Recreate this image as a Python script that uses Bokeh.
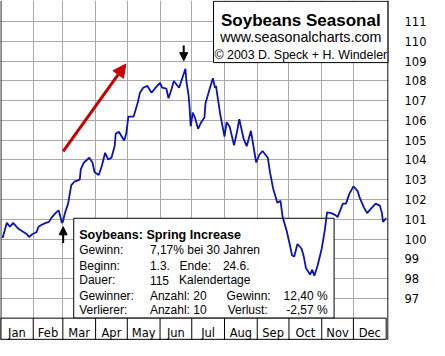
from itertools import accumulate
from bokeh.plotting import figure
from bokeh.models import Range1d, FixedTicker, Arrow, NormalHead, Span
from bokeh.core.properties import value
from bokeh.embed import file_html
from bokeh.resources import INLINE

# ---------------- data ----------------
months = ["Jan", "Feb", "Mar", "Apr", "May", "Jun", "Jul", "Aug", "Sep", "Oct", "Nov", "Dec"]
month_days = [31, 28, 31, 30, 31, 30, 31, 31, 30, 31, 30, 31]
y_ticks = list(range(97, 112))

day_of_year = [2, 6, 9, 12, 16, 18, 21, 25, 27, 30, 34, 36, 39, 43, 46, 48, 52, 55, 57, 58,
               59, 61, 64, 66, 67, 70, 75, 76, 79, 84, 87, 89, 93, 96, 99, 102, 105, 108, 109, 112,
               117, 119, 121, 126, 130, 132, 135, 139, 143, 146, 151, 153, 157, 159, 162, 164, 169, 175, 176, 178,
               179, 180, 182, 184, 187, 190, 193, 194, 198, 201, 203, 204, 205, 208, 212, 214, 217, 221, 224, 226,
               230, 233, 237, 240, 242, 245, 248, 253, 255, 258, 262, 265, 267, 271, 274, 276, 278, 281, 285, 287,
               289, 293, 295, 297, 300, 304, 307, 309, 313, 317, 319, 324, 327, 330, 334, 338, 340, 344, 347, 350,
               355, 359, 361, 362, 365]
seasonal = [100.05, 100.82, 100.62, 100.82, 100.57, 100.48, 100.38, 100.24, 100.10, 100.24,
            100.34, 100.62, 100.72, 100.82, 100.87, 101.06, 101.31, 101.45, 101.06, 100.82,
            100.87, 101.31, 101.79, 102.42, 102.73, 102.90, 103.00, 103.53, 103.87, 104.11,
            103.87, 103.38, 103.24, 103.72, 104.36, 104.02, 104.11, 104.69, 105.32, 105.42,
            104.98, 105.32, 106.19, 106.19, 106.92, 107.40, 107.65, 107.74, 107.40, 107.60,
            107.89, 107.65, 107.60, 107.12, 107.60, 107.99, 107.65, 108.61, 107.94, 107.26,
            106.63, 105.70, 106.39, 106.14, 105.57, 105.91, 106.14, 106.87, 107.60, 108.13,
            107.65, 107.74, 107.35, 106.29, 105.18, 105.91, 105.66, 104.74, 105.47, 106.06,
            105.08, 104.69, 105.47, 104.49, 103.87, 104.26, 104.45, 104.11, 103.38, 102.56,
            101.83, 101.93, 101.11, 100.38, 99.66, 99.17, 99.12, 99.75, 99.51, 99.12,
            98.54, 98.20, 98.45, 98.15, 98.64, 99.51, 100.48, 101.35, 101.31, 101.21,
            101.11, 101.79, 101.79, 102.27, 102.66, 102.42, 102.08, 101.59, 101.31, 101.50,
            101.79, 101.69, 101.31, 100.87, 101.06]

title_lines = ["Soybeans Seasonal", "www.seasonalcharts.com", "\u00a9 2003 D. Speck + H. Windeler"]
info_title = "Soybeans: Spring Increase"
info_labels = ["Gewinn:", "Beginn:", "Dauer:", "Gewinner:", "Verlierer:"]
info_values = ["7,17% bei 30 Jahren", "1.3.", "115", "Anzahl: 20", "Anzahl: 10"]
info_mid = ["Ende:", "Kalendertage"]
info_end = "24.6."
info_stat_labels = ["Gewinn:", "Verlust:"]
info_stat_values = ["12,40 %", "-2,57 %"]

start_day = 60   # 1.3.
end_day = 175    # 24.6.

# ---------------- layout ----------------
bounds = [0] + list(accumulate(month_days))
mids = [(a + b) / 2 for a, b in zip(bounds[:-1], bounds[1:])]

X0, X1 = 0, 367.2
Y0, Y1 = 94.87, 112.06
BAND_TOP = 96.0

p = figure(width=429, height=340, output_backend="svg", toolbar_location=None,
           x_range=Range1d(X0, X1), y_range=Range1d(Y0, Y1),
           x_axis_location=None, y_axis_location="right",
           min_border_left=0, min_border_top=0, min_border_bottom=0, min_border_right=41)
p.outline_line_color = None
p.background_fill_color = "white"
p.border_fill_color = "white"

grid_col = "#a9a9a9"
p.xgrid.ticker = FixedTicker(ticks=bounds[1:-1])
p.ygrid.ticker = FixedTicker(ticks=y_ticks)
for g in (p.xgrid, p.ygrid):
    g.grid_line_color = grid_col
    g.grid_line_width = 1

ax = p.yaxis[0]
ax.ticker = FixedTicker(ticks=y_ticks)
ax.axis_line_color = None
ax.major_tick_line_color = None
ax.minor_tick_line_color = None
ax.major_label_standoff = 10
ax.major_label_text_font = "DejaVu Sans"
ax.major_label_text_font_size = "11.5px"
ax.major_label_text_color = "black"

# boxes (under the line)
p.quad(left=[201.6], right=[X1], bottom=[108.92], top=[112.02],
       fill_color="white", line_color="black", line_width=1)
p.quad(left=[69.3], right=[315.7], bottom=[BAND_TOP], top=[101.05],
       fill_color="white", line_color="black", line_width=1)

# seasonal line
p.line(day_of_year, seasonal, line_color="#0a14b4", line_width=1.8)

# month band
p.quad(left=[0], right=[bounds[-1]], bottom=[Y0 + 0.06], top=[BAND_TOP],
       fill_color="white", line_color="black", line_width=1)
p.segment(x0=bounds[1:-1], y0=[Y0] * 11, x1=bounds[1:-1], y1=[BAND_TOP] * 11,
          line_color="black", line_width=1)
p.text(x=mids, y=[95.26] * 12, text=months, text_align="center", text_baseline="alphabetic",
       text_font=value("DejaVu Sans"), text_font_size="11.5px", text_color="black")

# borders
p.add_layout(Span(location=0.35, dimension="height", line_color="black", line_width=1.2))
p.add_layout(Span(location=366.7, dimension="height", line_color="black", line_width=1.2))

# title texts
p.text(x=[284.2], y=[111.05], text=[title_lines[0]], text_align="center", text_baseline="alphabetic",
       text_font=value("Liberation Sans"), text_font_style="bold", text_font_size="17px", text_color="black")
p.text(x=[284.2], y=[110.20], text=[title_lines[1]], text_align="center", text_baseline="alphabetic",
       text_font=value("Liberation Sans"), text_font_size="14.3px", text_color="black")
p.text(x=[284.2], y=[109.32], text=[title_lines[2]], text_align="center", text_baseline="alphabetic",
       text_font=value("Liberation Sans"), text_font_size="12.4px", text_color="black")

# info texts
rows = [99.435, 98.66, 97.91, 97.14, 96.39]
fkw = dict(text_baseline="alphabetic", text_font=value("Liberation Sans"),
           text_font_size="12px", text_color="black")
p.text(x=[74.5], y=[100.21], text=[info_title], text_align="left", text_baseline="alphabetic",
       text_font=value("Liberation Sans"), text_font_style="bold", text_font_size="12.6px", text_color="black")
p.text(x=[74.5] * 5, y=rows, text=info_labels, text_align="left", **fkw)
p.text(x=[141.4] * 5, y=rows, text=info_values, text_align="left", **fkw)
p.text(x=[169.5, 169.0], y=[rows[1], rows[2]], text=info_mid, text_align="left", **fkw)
p.text(x=[210.5], y=[rows[1]], text=[info_end], text_align="left", **fkw)
p.text(x=[214.0, 215.0], y=[rows[3], rows[4]], text=info_stat_labels, text_align="left", **fkw)
p.text(x=[309.6, 309.6], y=[rows[3], rows[4]], text=info_stat_values, text_align="right", **fkw)

# arrows
red = "#c80000"
p.add_layout(Arrow(end=NormalHead(size=13, fill_color=red, line_color=red, line_width=1),
                   x_start=59.3, y_start=104.43, x_end=118.6, y_end=108.85,
                   line_color=red, line_width=3))
p.add_layout(Arrow(end=NormalHead(size=8, fill_color="black", line_color="black", line_width=1),
                   x_start=173.4, y_start=109.79, x_end=173.4, y_end=109.02,
                   line_color="black", line_width=2))
p.add_layout(Arrow(end=NormalHead(size=8, fill_color="black", line_color="black", line_width=1),
                   x_start=59.3, y_start=99.80, x_end=59.3, y_end=100.62,
                   line_color="black", line_width=2))

open("out.html", "w").write(file_html(p, INLINE))
